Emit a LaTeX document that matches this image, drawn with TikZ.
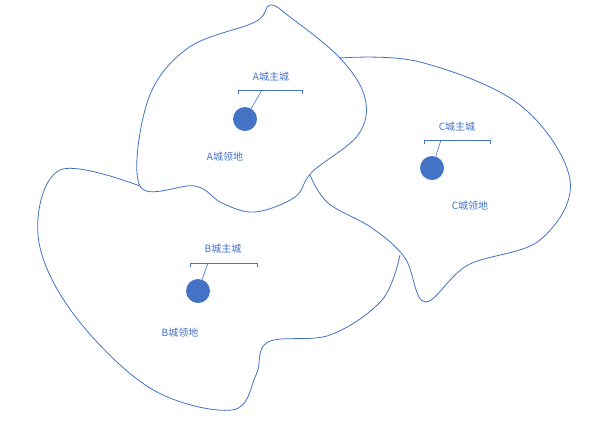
\documentclass[tikz,border=0pt]{standalone}
\usepackage{fontspec}
\setmainfont{Liberation Sans}
\newfontfamily\cjk{Noto Sans CJK SC}
\definecolor{cityblue}{RGB}{68,114,196}
\begin{document}
\begin{tikzpicture}[x=1pt,y=-1pt]
\tikzset{border/.style={draw=cityblue,line width=0.8pt},
  city/.style={circle,fill=cityblue,minimum size=24pt,inner sep=0pt},
  lbl/.style={text=cityblue,font=\cjk\fontsize{10}{12}\selectfont,inner sep=0.75pt},
  callout/.style={draw=cityblue,line width=0.6pt}}
\useasboundingbox (0,0) rectangle (605,432);

% territory A
\draw[border] plot[smooth cycle,tension=0.6] coordinates {(270,5) (290,17) (340,58) (365,98) (358,135) (312,172) (295,197) (255,212) (222,203) (195,186) (140,186) (148,100) (188,48) (255,22)};
% territory C
\draw[border] plot[smooth,tension=0.6] coordinates {(340,58) (420,62) (520,105) (570,180) (540,240) (468,265) (425,302) (405,258) (372,228) (328,203) (310,175)};
% territory B
\draw[border] plot[smooth,tension=0.6] coordinates {(140,186) (60,170) (38,235) (72,312) (150,388) (232,410) (256,375) (268,342) (330,335) (382,300) (400,255)};

% cities
\node[city] (cA) at (245,119) {};
\node[city] (cC) at (432,168) {};
\node[city] (cB) at (198,291) {};

% callouts
\node[lbl] (tA) at (271,77) {A城主城};
\node[lbl] (tC) at (457,127) {C城主城};
\node[lbl] (tB) at (223,249) {B城主城};
\coordinate (kA) at (262,90);
\coordinate (kC) at (441,140);
\coordinate (kB) at (208,263);
\draw[callout] (238,94) -- (238,90) -- (302,90) -- (302,94);
\draw[callout] (424,144) -- (424,140) -- (490,140) -- (490,144);
\draw[callout] (190,267) -- (190,263) -- (257,263) -- (257,267);
\draw[callout] (cA) -- (kA);
\draw[callout] (cC) -- (kC);
\draw[callout] (cB) -- (kB);

% territory labels
\node[lbl] (lA) at (225,157) {A城领地};
\node[lbl] (lC) at (470,206) {C城领地};
\node[lbl] (lB) at (180,333) {B城领地};
\end{tikzpicture}
\end{document}
